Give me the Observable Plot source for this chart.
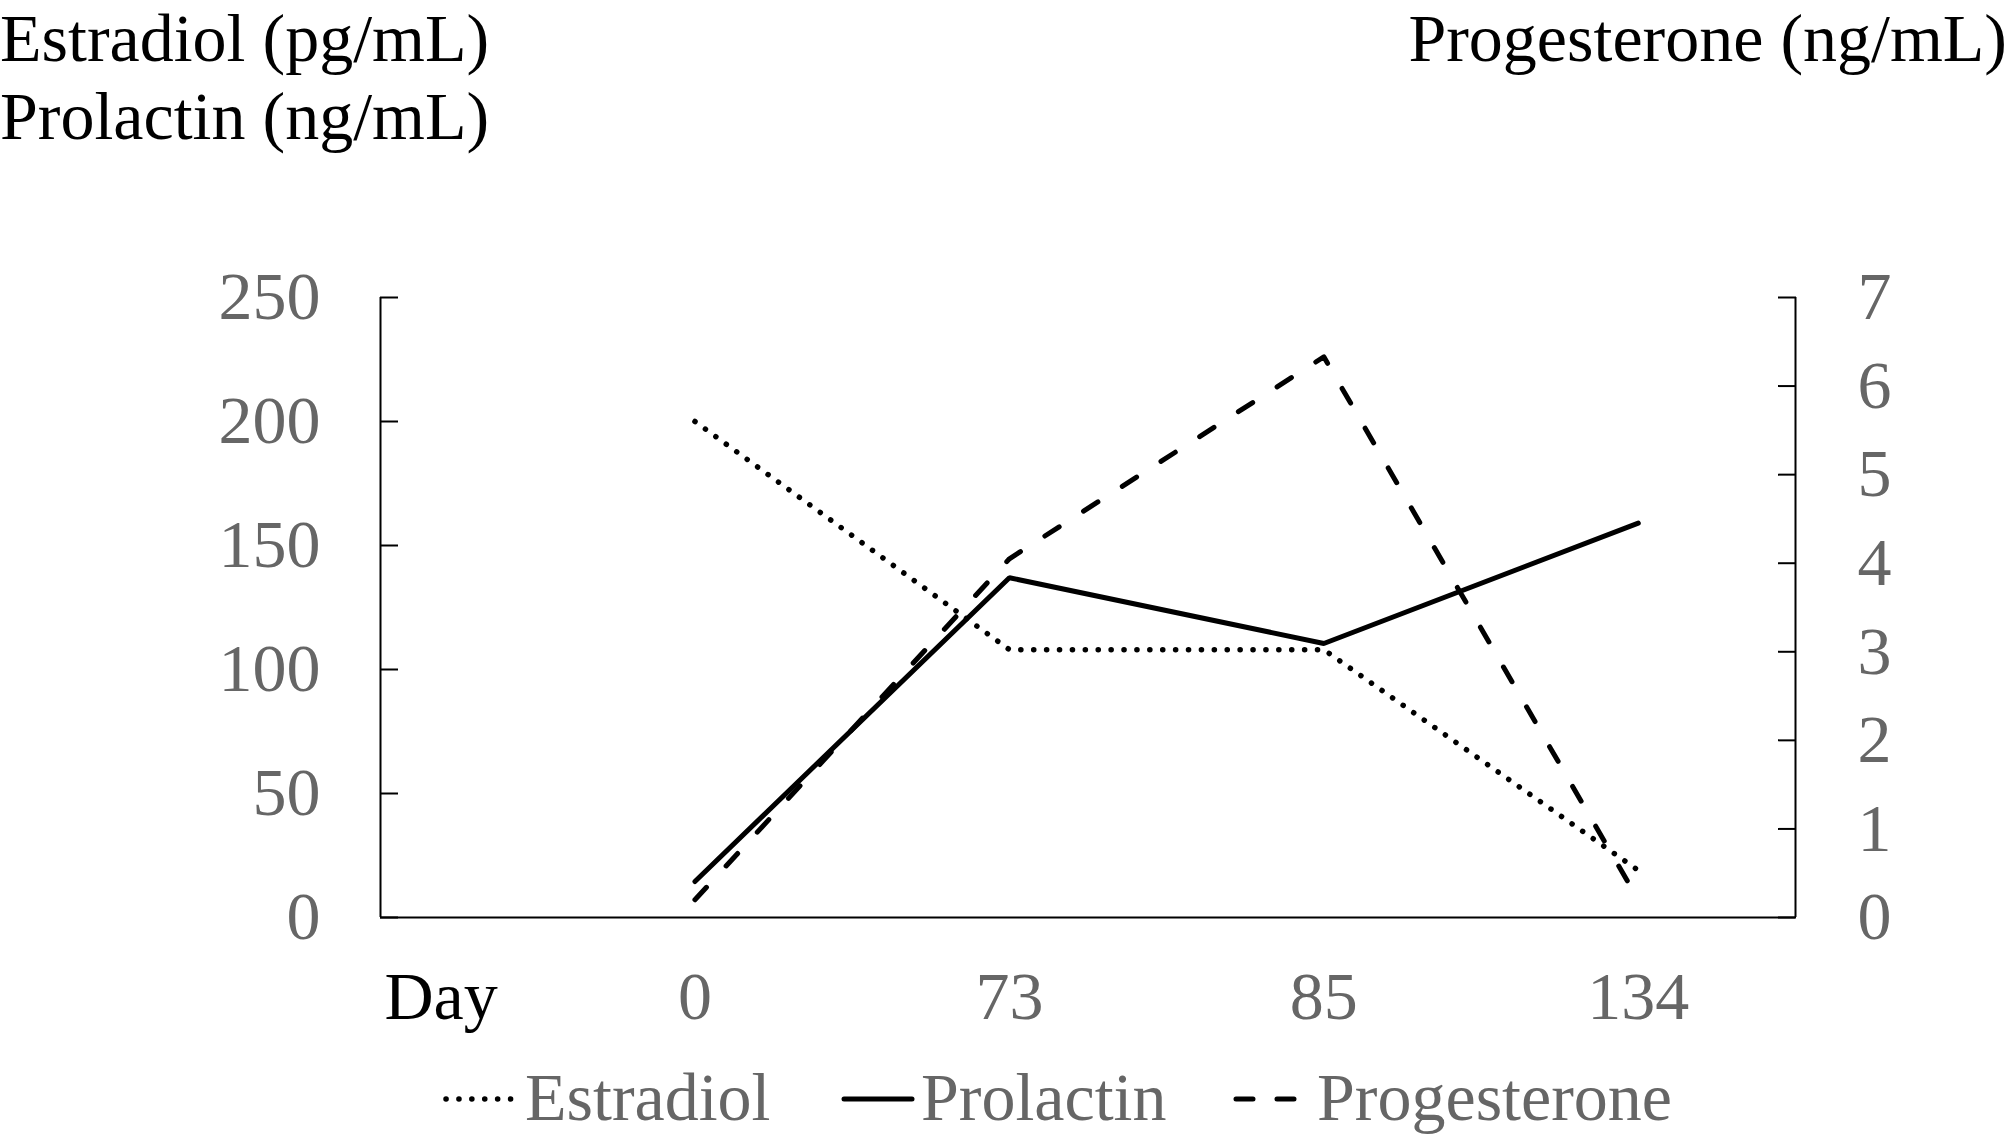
<!DOCTYPE html>
<html>
<head>
<meta charset="utf-8">
<script src="https://cdn.jsdelivr.net/npm/d3@7"></script>
<script src="https://cdn.jsdelivr.net/npm/@observablehq/plot@0.6"></script>
<style>
  html, body { margin: 0; padding: 0; background: #fff; }
  body { font-family: "Liberation Serif", "Times New Roman", serif; }
  #root { position: relative; width: 2008px; height: 1136px; overflow: hidden; background: #fff; }
  .h { position: absolute; font-size: 68px; line-height: 76px; color: #000; white-space: nowrap; }
  #chart { position: absolute; left: 0; top: 160px; }
  .lg { position: absolute; top: 1063px; height: 68px; display: flex; align-items: flex-start; white-space: nowrap; }
  .lg span { font-size: 68px; line-height: 68px; color: #666; }
  .lg svg { display: block; }
</style>
</head>
<body>
<div id="root">
  <div class="h" id="hl1" style="left:0;top:0px"></div>
  <div class="h" id="hl2" style="left:0;top:78px"></div>
  <div class="h" id="hr1" style="right:1px;top:0px"></div>
  <div id="chart"></div>
  <div id="legend"></div>
</div>
<script>
// ---- data ----
const days = ["0", "73", "85", "134"];
const estradiol = [200, 108, 108, 19];
const prolactin = [14.5, 137, 110.5, 159];
const progesterone = [0.2, 4.05, 6.33, 0.2];
const leftTicks = [0, 50, 100, 150, 200, 250];
const rightTicks = [0, 1, 2, 3, 4, 5, 6, 7];
const leftMax = 250;
const rightMax = 7;
const xAxisTitle = "Day";
const leftTitles = ["Estradiol (pg/mL)", "Prolactin (ng/mL)"];
const rightTitle = "Progesterone (ng/mL)";
const seriesNames = ["Estradiol", "Prolactin", "Progesterone"];

// ---- headings ----
document.getElementById("hl1").textContent = leftTitles[0];
document.getElementById("hl2").textContent = leftTitles[1];
document.getElementById("hr1").textContent = rightTitle;

const toLeft = v => v * leftMax / rightMax;
const rows = days.map((d, i) => ({
  i, day: d,
  estradiol: estradiol[i],
  prolactin: prolactin[i],
  progesterone: toLeft(progesterone[i])
}));

const xDomain = [-1, days.length - 0.5];

const styles = {
  Estradiol: {strokeWidth: 5.5, strokeDasharray: "0.1 12.8", strokeLinecap: "round"},
  Prolactin: {strokeWidth: 5, strokeLinecap: "round", strokeLinejoin: "miter"},
  Progesterone: {strokeWidth: 5, strokeDasharray: "17 29", strokeLinecap: "round"}
};

const font = {fontFamily: "Liberation Serif, Times New Roman, serif", fontSize: 68};

const chart = Plot.plot({
  width: 2008,
  height: 900,
  marginTop: 137,
  marginBottom: 143,
  marginLeft: 380,
  marginRight: 213,
  style: {fontFamily: "Liberation Serif, Times New Roman, serif", fontSize: "68px", color: "#000", background: "#fff", overflow: "visible"},
  x: {type: "linear", domain: xDomain},
  y: {domain: [0, leftMax]},
  marks: [
    Plot.ruleX(xDomain, {stroke: "#000", strokeWidth: 2}),
    Plot.ruleY([0], {stroke: "#000", strokeWidth: 2}),
    Plot.axisY({anchor: "left", ticks: leftTicks, tickFormat: d => String(d), tickSize: -18, tickPadding: 78, strokeWidth: 2, stroke: "#000", fill: "#666", label: null, ...font}),
    Plot.axisY({anchor: "right", ticks: rightTicks.map(toLeft), tickFormat: d => String(Math.round(d * rightMax / leftMax)), tickSize: -18, tickPadding: 80, strokeWidth: 2, stroke: "#000", fill: "#666", label: null, ...font}),
    Plot.axisX({ticks: d3.range(days.length), tickFormat: i => days[i], tickSize: 0, tickPadding: 53, fill: "#666", label: null, ...font}),
    Plot.axisX({ticks: [xDomain[0]], tickFormat: () => xAxisTitle, tickSize: 0, tickPadding: 53, textAnchor: "start", dx: 4, fill: "#000", label: null, ...font}),
    Plot.line(rows, {x: "i", y: "estradiol", stroke: "#000", ...styles.Estradiol}),
    Plot.line(rows, {x: "i", y: "progesterone", stroke: "#000", ...styles.Progesterone}),
    Plot.line(rows, {x: "i", y: "prolactin", stroke: "#000", ...styles.Prolactin})
  ]
});
document.getElementById("chart").appendChild(chart);

// ---- legend ----
const legendPos = {Estradiol: 443, Prolactin: 841, Progesterone: 1233};
const sampleW = {Estradiol: 76, Prolactin: 74, Progesterone: 78};
const legend = document.getElementById("legend");
for (const name of seriesNames) {
  const item = document.createElement("div");
  item.className = "lg";
  item.style.left = legendPos[name] + "px";
  const w = sampleW[name];
  const s = styles[name];
  const svg = d3.create("svg").attr("width", w).attr("height", 68);
  svg.append("line")
    .attr("x1", 3).attr("x2", w - 3).attr("y1", 36).attr("y2", 36)
    .attr("stroke", "#000")
    .attr("stroke-width", s.strokeWidth)
    .attr("stroke-linecap", s.strokeLinecap || "butt")
    .attr("stroke-dasharray", name === "Progesterone" ? "17 24" : (s.strokeDasharray || null));
  item.appendChild(svg.node());
  const sp = document.createElement("span");
  sp.textContent = name;
  sp.style.marginLeft = "6px";
  item.appendChild(sp);
  legend.appendChild(item);
}
</script>
</body>
</html>
